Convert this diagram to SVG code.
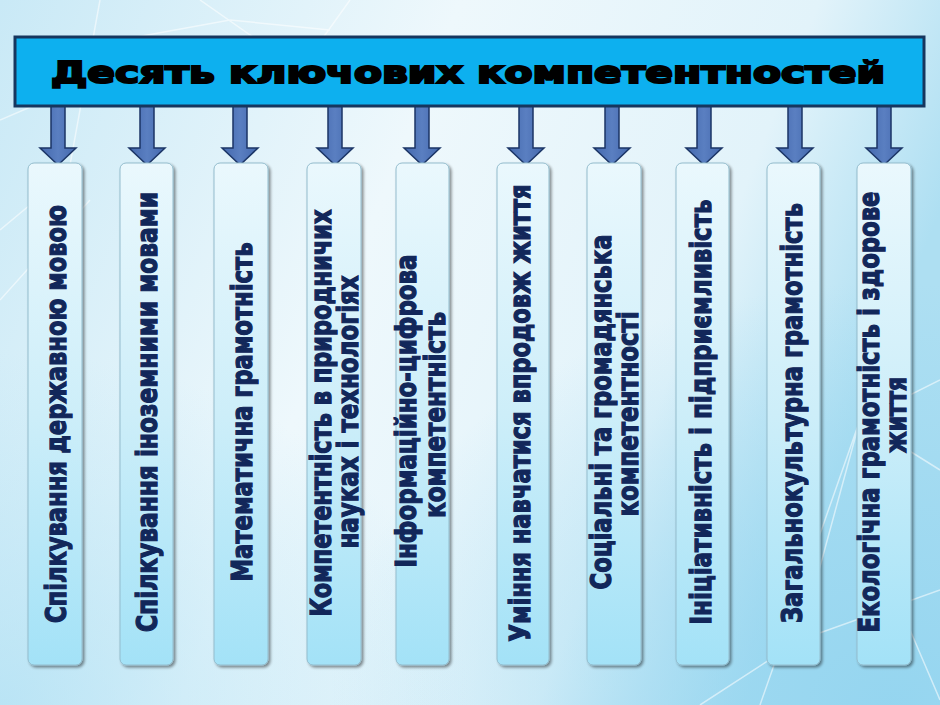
<svg xmlns="http://www.w3.org/2000/svg" width="940" height="705" viewBox="0 0 940 705">
<defs>
<linearGradient id="bg" x1="0" y1="0" x2="1" y2="0.3">
<stop offset="0" stop-color="#c9e9f6"/>
<stop offset="0.45" stop-color="#eef8fc"/>
<stop offset="0.8" stop-color="#e2f3fa"/>
<stop offset="1" stop-color="#aedff2"/>
</linearGradient>
<radialGradient id="bg2" cx="0.95" cy="1" r="0.6">
<stop offset="0" stop-color="#8fd3ef" stop-opacity="0.8"/>
<stop offset="1" stop-color="#8fd3ef" stop-opacity="0"/>
</radialGradient>
<radialGradient id="bg3" cx="0" cy="1" r="0.5">
<stop offset="0" stop-color="#a9def3" stop-opacity="0.7"/>
<stop offset="1" stop-color="#a9def3" stop-opacity="0"/>
</radialGradient>
<linearGradient id="boxg" x1="0" y1="0" x2="0" y2="1">
<stop offset="0" stop-color="#eaf8fd"/>
<stop offset="0.5" stop-color="#cdeef9"/>
<stop offset="1" stop-color="#a3e2f7"/>
</linearGradient>
<linearGradient id="arrg" x1="0" y1="0" x2="1" y2="0">
<stop offset="0" stop-color="#4468ad"/>
<stop offset="0.5" stop-color="#5a7fc1"/>
<stop offset="1" stop-color="#4468ad"/>
</linearGradient>
<filter id="sh" x="-20%" y="-5%" width="150%" height="110%">
<feGaussianBlur in="SourceAlpha" stdDeviation="1.5"/>
<feOffset dx="2" dy="2" result="b"/>
<feComponentTransfer><feFuncA type="linear" slope="0.45"/></feComponentTransfer>
<feMerge><feMergeNode/><feMergeNode in="SourceGraphic"/></feMerge>
</filter>
</defs>
<style>
.box{fill:url(#boxg);stroke:#93bccd;stroke-width:1;filter:url(#sh)}
.lbl{font-family:"DejaVu Sans","Liberation Sans",sans-serif;font-weight:bold;font-size:28px;fill:#12275a;stroke:#12275a;stroke-width:1.3;text-anchor:middle}
.arr{fill:url(#arrg);stroke:#1b3566;stroke-width:1.5;stroke-linejoin:miter}
.net{stroke:#ffffff;stroke-width:1.5;fill:none;opacity:0.55}
</style>
<rect width="940" height="705" fill="url(#bg)"/>
<rect width="940" height="705" fill="url(#bg2)"/>
<rect width="940" height="705" fill="url(#bg3)"/>
<g id="background-lines">
<path class="net" d="M100 0 L40 330 M0 120 L140 60 M200 0 L300 70 M230 20 L120 40 M0 300 L90 200 M60 180 L0 230 M300 70 L350 0 M230 20 L330 30"/>
<path class="net" d="M760 705 L860 420 L940 470 M860 420 L800 640 L940 590 M700 705 L800 640 M860 420 L940 380 M880 560 L940 700"/>
</g>
<g id="connectors">
<polygon class="arr" points="51,106 65,106 65,148 76,148 58,165 40,148 51,148"/>
<polygon class="arr" points="140,106 154,106 154,148 165,148 147,165 129,148 140,148"/>
<polygon class="arr" points="233,106 247,106 247,148 258,148 240,165 222,148 233,148"/>
<polygon class="arr" points="328,106 342,106 342,148 353,148 335,165 317,148 328,148"/>
<polygon class="arr" points="415,106 429,106 429,148 440,148 422,165 404,148 415,148"/>
<polygon class="arr" points="519,106 533,106 533,148 544,148 526,165 508,148 519,148"/>
<polygon class="arr" points="605,106 619,106 619,148 630,148 612,165 594,148 605,148"/>
<polygon class="arr" points="697,106 711,106 711,148 722,148 704,165 686,148 697,148"/>
<polygon class="arr" points="788,106 802,106 802,148 813,148 795,165 777,148 788,148"/>
<polygon class="arr" points="877,106 891,106 891,148 902,148 884,165 866,148 877,148"/>
</g>
<g id="title">
<rect x="15" y="37" width="909" height="69" fill="#0db0ef" stroke="#16365e" stroke-width="3"/>
<text x="468" y="83" font-family="DejaVu Sans,'Liberation Sans',sans-serif" font-weight="bold" font-size="31" fill="#000" stroke="#000" stroke-width="2.2" text-anchor="middle" textLength="834" lengthAdjust="spacingAndGlyphs">Десять ключових компетентностей</text>
</g>
<g id="node1">
<rect class="box" x="28" y="163" width="54" height="502" rx="6"/>
<text class="lbl" transform="translate(66,414) rotate(-90)" textLength="418" lengthAdjust="spacingAndGlyphs">Спілкування державною мовою</text>
</g>
<g id="node2">
<rect class="box" x="120" y="163" width="53" height="502" rx="6"/>
<text class="lbl" transform="translate(157,412) rotate(-90)" textLength="440" lengthAdjust="spacingAndGlyphs">Спілкування іноземними мовами</text>
</g>
<g id="node3">
<rect class="box" x="214" y="163" width="54" height="502" rx="6"/>
<text class="lbl" transform="translate(252,412) rotate(-90)" textLength="339" lengthAdjust="spacingAndGlyphs">Математична грамотність</text>
</g>
<g id="node4">
<rect class="box" x="307" y="163" width="54" height="502" rx="6"/>
<text class="lbl" transform="translate(331,413) rotate(-90)" textLength="407" lengthAdjust="spacingAndGlyphs">Компетентність в природничих</text>
<text class="lbl" transform="translate(358,412) rotate(-90)" textLength="273" lengthAdjust="spacingAndGlyphs">науках і технологіях</text>
</g>
<g id="node5">
<rect class="box" x="396" y="163" width="53" height="502" rx="6"/>
<text class="lbl" transform="translate(416,411) rotate(-90)" textLength="313" lengthAdjust="spacingAndGlyphs">Інформаційно-цифрова</text>
<text class="lbl" transform="translate(445,415) rotate(-90)" textLength="206" lengthAdjust="spacingAndGlyphs">компетентність</text>
</g>
<g id="node6">
<rect class="box" x="497" y="163" width="52" height="502" rx="6"/>
<text class="lbl" transform="translate(530,413) rotate(-90)" textLength="457" lengthAdjust="spacingAndGlyphs">Уміння навчатися впродовж життя</text>
</g>
<g id="node7">
<rect class="box" x="587" y="163" width="54" height="502" rx="6"/>
<text class="lbl" transform="translate(611,412) rotate(-90)" textLength="355" lengthAdjust="spacingAndGlyphs">Соціальні та громадянська</text>
<text class="lbl" transform="translate(638,414) rotate(-90)" textLength="205" lengthAdjust="spacingAndGlyphs">компетентності</text>
</g>
<g id="node8">
<rect class="box" x="676" y="163" width="53" height="502" rx="6"/>
<text class="lbl" transform="translate(711,412) rotate(-90)" textLength="425" lengthAdjust="spacingAndGlyphs">Ініціативність і підприємливість</text>
</g>
<g id="node9">
<rect class="box" x="767" y="163" width="53" height="502" rx="6"/>
<text class="lbl" transform="translate(802,413) rotate(-90)" textLength="420" lengthAdjust="spacingAndGlyphs">Загальнокультурна грамотність</text>
</g>
<g id="node10">
<rect class="box" x="857" y="163" width="54" height="502" rx="6"/>
<text class="lbl" transform="translate(879,412) rotate(-90)" textLength="441" lengthAdjust="spacingAndGlyphs">Екологічна грамотність і здорове</text>
<text class="lbl" transform="translate(906,415) rotate(-90)" textLength="76" lengthAdjust="spacingAndGlyphs">життя</text>
</g>
</svg>
